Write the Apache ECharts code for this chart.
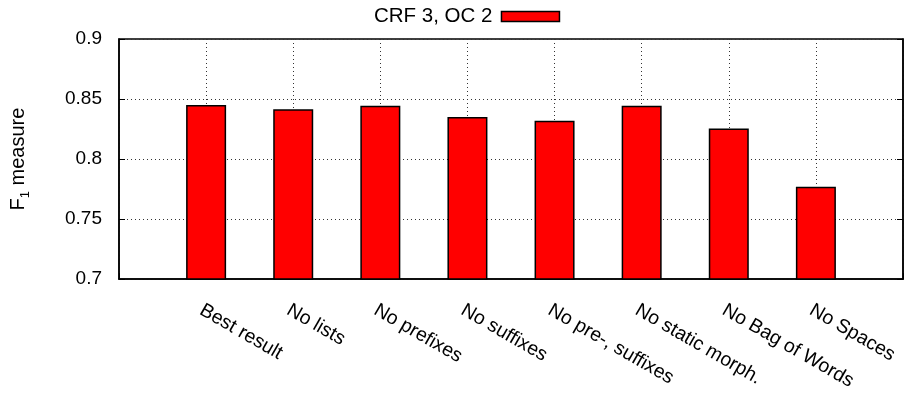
<!DOCTYPE html>
<html>
<head>
<meta charset="utf-8">
<script src="https://cdn.jsdelivr.net/npm/echarts@6/dist/echarts.min.js"></script>
<style>
html,body{margin:0;padding:0;background:#fff;}
#c{width:908px;height:393px;}
</style>
</head>
<body>
<div id="c"></div>
<script>
var categories = ['Best result', 'No lists', 'No prefixes', 'No suffixes', 'No pre-, suffixes', 'No static morph.', 'No Bag of Words', 'No Spaces'];
var values = [0.845, 0.8415, 0.8445, 0.835, 0.832, 0.8445, 0.8255, 0.777];
var seriesName = 'CRF 3, OC 2';
var yTicks = [0.7, 0.75, 0.8, 0.85, 0.9];

var axisData = [''].concat(categories).concat(['']);
var barData = ['-'].concat(values).concat(['-']);
var FONT = '"Liberation Sans", Arial, Helvetica, sans-serif';

var chart = echarts.init(document.getElementById('c'), null, {renderer: 'canvas'});
chart.setOption({
  animation: false,
  backgroundColor: '#fff',
  textStyle: {fontFamily: FONT, color: '#000'},
  legend: {
    left: 369, top: 1,
    align: 'right',
    itemWidth: 58, itemHeight: 10, itemGap: 10,
    icon: 'rect',
    textStyle: {fontFamily: FONT, fontSize: 20.5, color: '#000', padding: [0, 4, 0, 0]},
    itemStyle: {borderColor: '#000', borderWidth: 1.5},
    data: [seriesName]
  },
  grid: {left: 116, right: 5, top: 39, bottom: 112, show: true, borderColor: '#000', borderWidth: 1.5, containLabel: false},
  xAxis: {
    type: 'category',
    data: axisData,
    boundaryGap: false,
    axisLine: {show: true, lineStyle: {color: '#000', width: 1.5}},
    axisTick: {show: true, inside: true, length: 6, alignWithLabel: true, interval: 0, lineStyle: {color: '#000'}},
    splitLine: {show: true, interval: 0, lineStyle: {type: [1, 3], color: '#333', width: 1}},
    axisLabel: {
      interval: 0, rotate: -30, fontSize: 19.5, fontFamily: FONT, color: '#000',
      margin: 21, align: 'left', verticalAlign: 'top'
    }
  },
  yAxis: [{
    type: 'value', min: 0.7, max: 0.9, interval: 0.05,
    name: '{a|F}{s|1}{a| measure}',
    nameLocation: 'middle', nameRotate: 90, nameGap: 91,
    nameTextStyle: {
      rich: {
        a: {fontSize: 20, fontFamily: FONT, color: '#000', lineHeight: 24, verticalAlign: 'bottom'},
        s: {fontSize: 13, fontFamily: FONT, color: '#000', lineHeight: 15, verticalAlign: 'bottom', padding: [0, 0, -4, 0]}
      }
    },
    axisLine: {show: true, lineStyle: {color: '#000', width: 1.5}},
    axisTick: {show: true, inside: true, length: 6, lineStyle: {color: '#000'}},
    splitLine: {show: true, lineStyle: {type: [1, 3], color: '#333', width: 1}},
    axisLabel: {
      fontSize: 19, fontFamily: FONT, color: '#000', margin: 17,
      formatter: function (v) { return String(+v.toFixed(2)); }
    }
  }, {
    type: 'value', min: 0.7, max: 0.9, interval: 0.05, position: 'right',
    axisLine: {show: true, lineStyle: {color: '#000', width: 1.5}},
    axisTick: {show: true, inside: true, length: 6, lineStyle: {color: '#000'}},
    axisLabel: {show: false}, splitLine: {show: false}
  }],
  series: [{
    name: seriesName,
    type: 'bar',
    data: barData,
    barWidth: 40,
    itemStyle: {color: '#ff0000', borderColor: '#000', borderWidth: 1.5}
  }]
});
</script>
</body>
</html>
